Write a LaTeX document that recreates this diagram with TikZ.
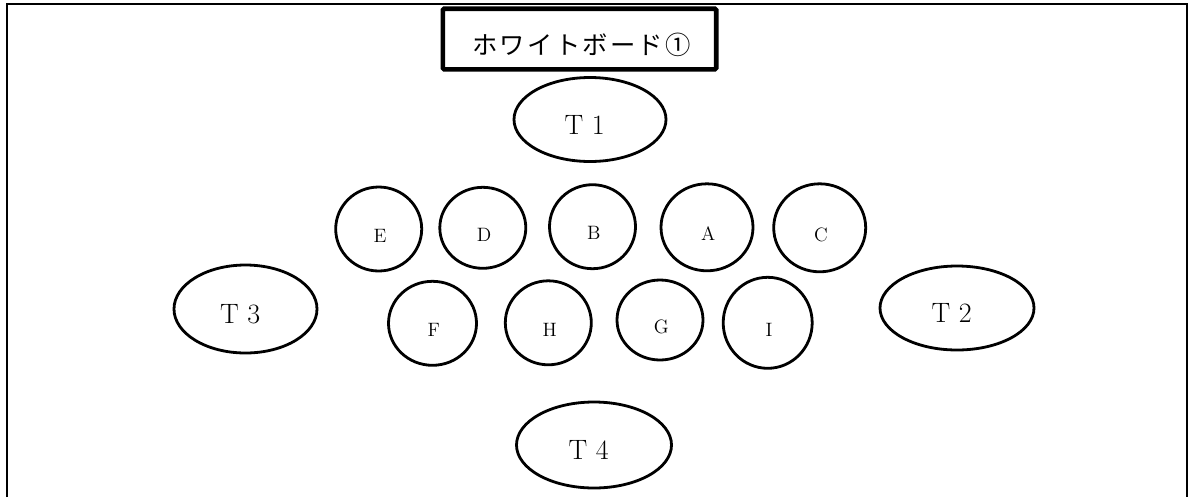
\documentclass[tikz,border=0pt]{standalone}
\usepackage{fontspec}
\newfontfamily\cjk{Noto Sans CJK JP}[LetterSpace=9]
\usetikzlibrary{shapes.geometric}
\begin{document}
\begin{tikzpicture}[x=0.75pt,y=-0.75pt,
  seat/.style 2 args={ellipse, draw, line width=2.1pt, inner sep=0pt,
    minimum width={0.75*#1pt}, minimum height={0.75*#2pt}},
  member/.style={seat={86}{84},
    label={[font=\fontsize{14.5}{14.5}\selectfont, xshift=1pt, yshift=-5pt]center:#1}},
  table/.style={seat={152}{84},
    label={[font=\fontsize{21}{21}\selectfont, xshift=-4pt, yshift=-4pt]center:#1}},
  board/.style={draw, line width=3.5pt, rounded corners=1pt, inner sep=0pt,
    minimum width=205pt, minimum height=45.5pt}]
\useasboundingbox (0,0) rectangle (1188,497);

% room outline, open at the bottom
\draw[line width=1.5pt] (7,497) -- (7,4) -- (1187,4) -- (1187,497);

% whiteboard
\node[board, label={[font=\cjk\fontsize{19}{19}\selectfont, xshift=1.5pt, yshift=-4.5pt]center:ホワイトボード①}] (wb) at (579.5,39) {};

% teachers
\node[table=T 1] (t1) at (590,119.5) {};
\node[table=T 2, minimum width=0.75*154pt] (t2) at (957,308) {};
\node[table=T 3, minimum width=0.75*143pt, minimum height=0.75*88pt] (t3) at (245.5,309) {};
\node[table=T 4, minimum width=0.75*155pt, minimum height=0.75*86pt] (t4) at (594,445) {};

% front row
\node[member=E] (e) at (378.7,229) {};
\node[member=D, minimum height=0.75*81pt] (d) at (482.8,227.8) {};
\node[member=B] (b) at (592.5,226.7) {};
\node[member=A, minimum width=0.75*92pt, minimum height=0.75*87pt] (a) at (707,227.3) {};
\node[member=C, minimum width=0.75*92pt, minimum height=0.75*88pt] (c) at (819.7,227.8) {};

% back row
\node[member=F, minimum width=0.75*88pt] (f) at (432.5,323.3) {};
\node[member=H] (h) at (548.3,322.8) {};
\node[member=G, minimum height=0.75*80pt] (g) at (660,320) {};
\node[member=I, minimum width=0.75*89pt, minimum height=0.75*91pt] (i) at (767.7,322.8) {};
\end{tikzpicture}
\end{document}
